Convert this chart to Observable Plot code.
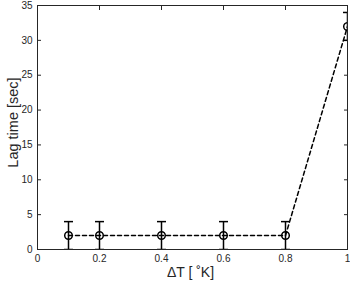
<!DOCTYPE html>
<html>
<head>
<meta charset="utf-8">
<script src="https://cdn.jsdelivr.net/npm/d3@7"></script>
<script src="https://cdn.jsdelivr.net/npm/@observablehq/plot@0.6"></script>
<style>
  html, body { margin: 0; padding: 0; background: #fff; }
  svg { display: block; }
</style>
</head>
<body>
<div id="chart"></div>
<script>
const deltaT = [0.1, 0.2, 0.4, 0.6, 0.8, 1.0];
const lagTime = [2, 2, 2, 2, 2, 32];
const errLow = [2, 2, 2, 2, 2, 2];
const errHigh = [2, 2, 2, 2, 2, 2];
const xTicks = [0, 0.2, 0.4, 0.6, 0.8, 1];
const xTickLabels = ["0", "0.2", "0.4", "0.6", "0.8", "1"];
const yTicks = [0, 5, 10, 15, 20, 25, 30, 35];
const xLabel = "ΔT [ ˚K]";
const yLabel = "Lag time [sec]";

const data = deltaT.map((x, i) => ({x, y: lagTime[i], lo: lagTime[i] - errLow[i], hi: lagTime[i] + errHigh[i]}));

const hline = {
  draw(context, size) {
    const w = 4.5;
    context.moveTo(-w, 0);
    context.lineTo(w, 0);
  }
};

const axisColor = "#262626";
const font = "'Liberation Sans', Arial, sans-serif";

const chart = Plot.plot({
  width: 350,
  height: 284,
  marginLeft: 37,
  marginRight: 3,
  marginTop: 5,
  marginBottom: 35,
  style: {fontFamily: font, fontSize: "10px", color: axisColor, background: "#fff"},
  x: {domain: [0, 1]},
  y: {domain: [0, 35]},
  marks: [
    Plot.axisX(xTicks, {anchor: "bottom", tickSize: -4, text: null, stroke: axisColor, label: null}),
    Plot.axisX(xTicks, {anchor: "top", tickSize: -4, text: null, stroke: axisColor, label: null}),
    Plot.axisX(xTicks, {anchor: "bottom", tickSize: 0, tickPadding: 5, tickFormat: (d, i) => xTickLabels[i], fill: axisColor, label: null}),
    Plot.axisY(yTicks, {anchor: "left", tickSize: -4, text: null, stroke: axisColor, label: null}),
    Plot.axisY(yTicks, {anchor: "right", tickSize: -4, text: null, stroke: axisColor, label: null}),
    Plot.axisY(yTicks, {anchor: "left", tickSize: 0, tickPadding: 5, fill: axisColor, label: null}),
    Plot.frame({stroke: axisColor, strokeWidth: 1}),
    Plot.line(data, {x: "x", y: "y", stroke: "black", strokeWidth: 1.5, strokeDasharray: "4,3", clip: true}),
    Plot.ruleX(data, {x: "x", y1: "lo", y2: "hi", stroke: "black", strokeWidth: 1.5, clip: true}),
    Plot.dot(data, {x: "x", y: "lo", symbol: hline, r: 4, stroke: "black", strokeWidth: 1.5, clip: true}),
    Plot.dot(data, {x: "x", y: "hi", symbol: hline, r: 4, stroke: "black", strokeWidth: 1.5, clip: true}),
    Plot.dot(data, {x: "x", y: "y", r: 3.8, stroke: "black", strokeWidth: 1.5, fill: "none", clip: true}),
    Plot.text([xLabel], {frameAnchor: "bottom", dx: -2, dy: 23, textAnchor: "middle", lineAnchor: "middle", fontSize: 14, fill: axisColor, fontFamily: font}),
    Plot.text([yLabel], {frameAnchor: "left", dx: -24, dy: -5, textAnchor: "middle", lineAnchor: "middle", rotate: -90, fontSize: 14.5, fill: axisColor, fontFamily: font})
  ]
});
document.getElementById("chart").appendChild(chart);
</script>
</body>
</html>
